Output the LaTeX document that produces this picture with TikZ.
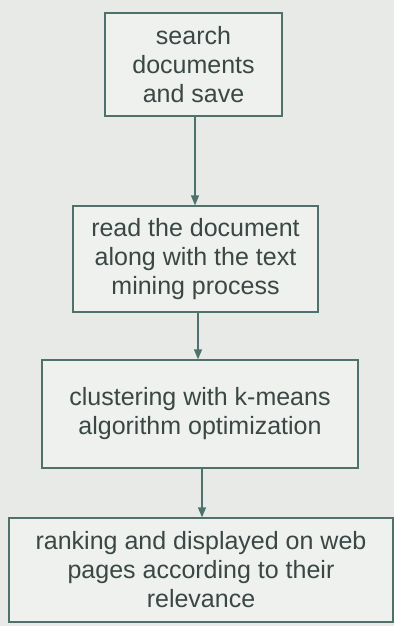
\documentclass[tikz,border=0pt]{standalone}
\usepackage{fontspec}
\setmainfont{Liberation Sans}
\usetikzlibrary{arrows.meta}
\definecolor{paper}{HTML}{E7EAE7}
\definecolor{boxfill}{HTML}{EEF1EE}
\definecolor{ink}{HTML}{3A4745}
\definecolor{edge}{HTML}{4F716B}
\begin{document}
\begin{tikzpicture}[x=1pt,y=-1pt,
  stepbox/.style={draw=edge, fill=boxfill, line width=1.3pt, align=center,
    text=ink, font=\fontsize{25}{29}\selectfont, inner sep=0pt},
  flow/.style={draw=edge, line width=1.3pt, -{Triangle[length=10pt,width=8pt]}}]
\fill[paper] (0,0) rectangle (394,626);
\useasboundingbox (0,0) rectangle (394,626);
\node[stepbox, minimum width=177pt, minimum height=103pt] (b1) at (193.5,64.5)
  {search\\documents\\and save};
\node[stepbox, minimum width=245pt, minimum height=106pt] (b2) at (195.5,259)
  {read the document\\along with the text\\mining process};
\node[stepbox, minimum width=316pt, minimum height=108pt] (b3) at (200,414)
  {clustering with k-means\\algorithm optimization};
\node[stepbox, minimum width=384pt, minimum height=104pt] (b4) at (201,570)
  {ranking and displayed on web\\pages according to their\\relevance};
\coordinate (a1) at (195,116);
\coordinate (a2) at (198,312);
\coordinate (a3) at (202,468);
\draw[flow] (a1) -- (a1 |- b2.north);
\draw[flow] (a2) -- (a2 |- b3.north);
\draw[flow] (a3) -- (a3 |- b4.north);
\end{tikzpicture}
\end{document}
